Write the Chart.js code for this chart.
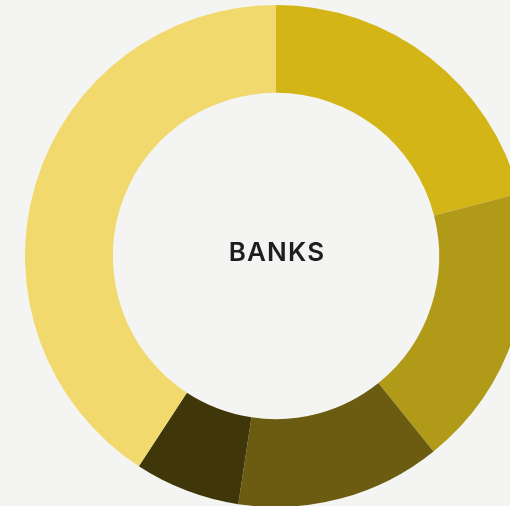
<!DOCTYPE html>
<html>
<head>
<meta charset="utf-8">
<script src="https://cdn.jsdelivr.net/npm/chart.js@4/dist/chart.umd.min.js"></script>
<style>
  html, body { margin: 0; padding: 0; background: #f4f4f2; }
  #wrap { position: relative; width: 510px; height: 506px; overflow: hidden; }
  #box { position: absolute; left: 0; top: 0; width: 552px; height: 512px; }
</style>
</head>
<body>
<div id="wrap">
  <div id="box"><canvas id="banksChart"></canvas></div>
</div>
<script>
// share of holdings by bank, clockwise from 12 o'clock
const labels = ["Bank 1", "Bank 2", "Bank 3", "Bank 4", "Bank 5"];
const shares = [21, 18.2, 13.2, 6.8, 40.8];
const colors = ["#d4b518", "#b09a18", "#6b5c12", "#3f370a", "#f1d96e"];
const centerLabel = "BANKS";

// writes the title in the hole of the ring
const centerText = {
  id: "centerText",
  afterDraw(chart) {
    const { ctx, chartArea } = chart;
    const x = (chartArea.left + chartArea.right) / 2;
    const y = (chartArea.top + chartArea.bottom) / 2;
    ctx.save();
    ctx.font = "600 26px Inter, 'Liberation Sans', sans-serif";
    ctx.letterSpacing = "1.2px";
    ctx.fillStyle = "#1e1e1e";
    ctx.textAlign = "center";
    ctx.textBaseline = "middle";
    ctx.fillText(centerLabel, x + 1, y - 3);
    ctx.restore();
  },
};

new Chart(document.getElementById("banksChart"), {
  type: "doughnut",
  data: {
    labels,
    datasets: [{
      data: shares,
      backgroundColor: colors,
      borderWidth: 0,
      hoverOffset: 0,
    }],
  },
  options: {
    responsive: true,
    maintainAspectRatio: false,
    animation: false,
    cutout: "65%",
    layout: { padding: 5 },
    plugins: {
      legend: { display: false },
      tooltip: { enabled: false },
    },
  },
  plugins: [centerText],
});
</script>
</body>
</html>
